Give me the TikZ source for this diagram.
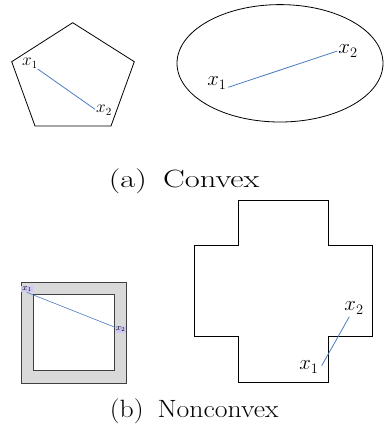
\documentclass[tikz,border=0pt]{standalone}
\usepackage{xcolor}
\definecolor{SegBlue}{HTML}{4A7CC4}
\definecolor{RingGray}{HTML}{D9D9D9}
\definecolor{RimGray}{HTML}{404040}
\definecolor{Lavender}{HTML}{CEC8F2}
\usetikzlibrary{positioning}

\begin{document}
\begin{tikzpicture}[
  x=1pt,y=-1pt,
  outline/.style={draw=black,line width=0.8pt},
  segment/.style={draw=SegBlue,line width=0.8pt},
  ptlabel/.style={inner sep=0pt,font=\fontsize{16}{18}\selectfont},
  biglabel/.style={inner sep=0pt,font=\fontsize{21}{24}\selectfont},
  tinylabel/.style={fill=Lavender,inner sep=0.8pt,font=\fontsize{9}{10}\selectfont},
  caption/.style={inner sep=0pt,font=\fontsize{25}{30}\selectfont,transform shape}
]
  \useasboundingbox (0,0) rectangle (383,444);

  % (a) convex: pentagon
  \draw[outline] (72.7,22.7) -- (134.3,61.7) -- (111,126) -- (35,126) -- (11.7,61.7) -- cycle;
  \coordinate (pa) at (37.7,69);
  \coordinate (pb) at (95,109.3);
  \draw[segment] (pa) -- (pb);
  \node[ptlabel] (pentx1) at (30,63) {$x_1$};
  \node[ptlabel] (pentx2) at (104,110) {$x_2$};

  % (a) convex: ellipse
  \draw[outline] (280,63.3) ellipse [x radius=103pt,y radius=58.7pt];
  \coordinate (ea) at (228.3,87.3);
  \coordinate (eb) at (337.3,51);
  \draw[segment] (ea) -- (eb);
  \node[biglabel] (ellx1) at (217,83) {$x_1$};
  \node[biglabel] (ellx2) at (348,51) {$x_2$};

  \node[caption,xscale=1.3] (capa) at (184.2,180.8) {(a)\hspace{0.5em}Convex};

  % (b) nonconvex: hollow square
  \draw[draw=RimGray,fill=RingGray,line width=0.8pt] (21,282.3) rectangle (126.7,383.3);
  \draw[draw=RimGray,fill=white,line width=0.8pt] (33.3,294.3) rectangle (114.7,370.7);
  \node[tinylabel] (sqx1) at (27,289) {$x_1$};
  \node[tinylabel] (sqx2) at (120.5,329.5) {$x_2$};
  \coordinate (sa) at (26.7,292.3);
  \coordinate (sb) at (115,327.3);
  \draw[segment,line width=0.6pt] (sa) -- (sb);

  % (b) nonconvex: cross
  \draw[outline] (238.7,200.7) -- (328.3,200.7) -- (328.3,245) -- (372.7,245)
    -- (372.7,336.7) -- (328.3,336.7) -- (328.3,382) -- (238.7,382)
    -- (238.7,336.7) -- (194,336.7) -- (194,245) -- (238.7,245) -- cycle;
  \coordinate (ca) at (321.7,365.7);
  \coordinate (cb) at (349.3,316.7);
  \draw[segment] (ca) -- (cb);
  \node[biglabel] (crx1) at (309,367) {$x_1$};
  \node[biglabel] (crx2) at (354,308) {$x_2$};

  \node[caption,xscale=1.11] (capb) at (194.2,410.8) {(b)\hspace{0.5em}Nonconvex};
\end{tikzpicture}
\end{document}
